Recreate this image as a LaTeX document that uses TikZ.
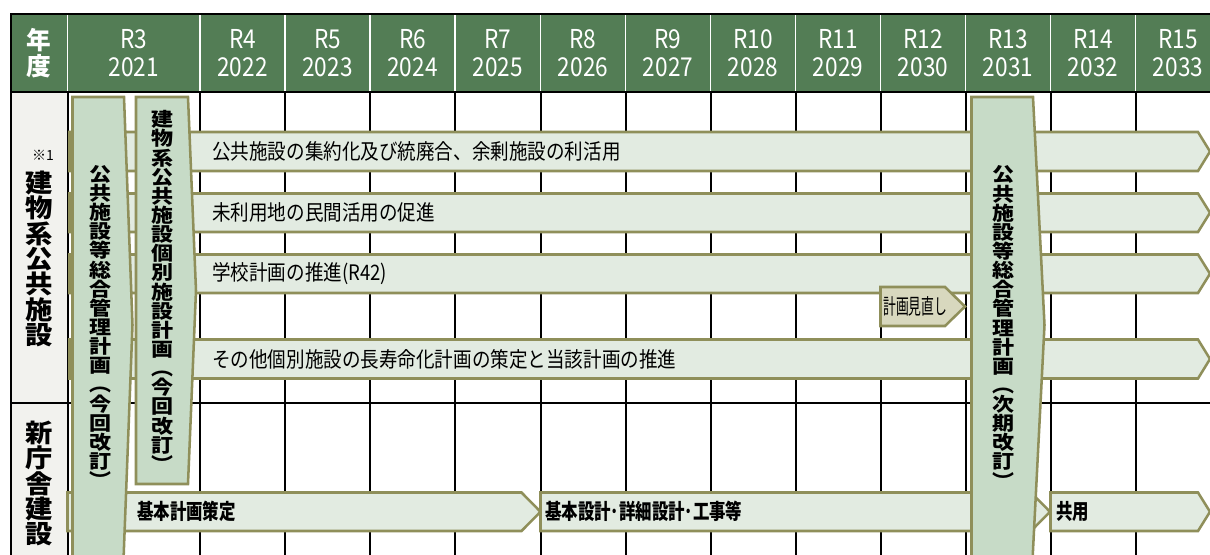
\documentclass[tikz,border=0pt]{standalone}
\usepackage{fontspec}
\setmainfont{Noto Sans CJK JP}
\newfontfamily\jpfont[FakeStretch=0.87]{Noto Sans CJK JP}
\newfontfamily\jpnarrow[FakeStretch=0.77]{Noto Sans CJK JP}
\newfontfamily\jptall[FakeStretch=0.6]{Noto Sans CJK JP}
\newfontfamily\jpvert{Noto Sans CJK JP}
\definecolor{hdrgreen}{HTML}{537D55}
\definecolor{labelgray}{HTML}{F2F2EE}
\definecolor{barfill}{HTML}{E2EBE1}
\definecolor{boxfill}{HTML}{C7DBC7}
\definecolor{reviewfill}{HTML}{D8D8BE}
\definecolor{planedge}{HTML}{8F8F5A}
\def\planbar[#1](#2:#3:#4:#5:#6){\draw[#1] (#2,#4) -- (#3,#4) -- ({#3+#6},{(#4+#5)/2}) -- (#3,#5) -- (#2,#5) -- cycle;}
\tikzset{
  gridline/.style={line width=1.5pt, black},
  hdrsep/.style={line width=1.4pt, white},
  planbar/.style={fill=barfill, draw=planedge, line width=1.9pt},
  reviewbar/.style={fill=reviewfill, draw=planedge, line width=1.9pt},
  planbox/.style={fill=boxfill, draw=planedge, line width=1.9pt},
  hdrtext/.style={text=white, inner sep=0pt, align=center, font={\jpfont\fontsize{19.5}{21}\selectfont}},
  hdrbold/.style={text=white, inner sep=0pt, align=center, font={\jpvert\bfseries\fontsize{18.5}{19}\selectfont}},
  sidetext/.style={inner sep=0pt, align=center, transform shape, yscale=0.93,
    font={\jpvert\bfseries\fontsize{20.5}{20.5}\selectfont\lineskiplimit=-\maxdimen}},
  notetext/.style={inner sep=0pt, font={\jpvert\fontsize{10.5}{12}\selectfont}},
  vtext/.style={inner sep=0pt, align=center, transform shape, yscale=0.87,
    font={\jpvert\bfseries\fontsize{16.5}{16.5}\selectfont\lineskiplimit=-\maxdimen}},
  bartext/.style={inner sep=0pt, anchor=west, font={\jpfont\fontsize{16}{18}\selectfont}},
  boldbar/.style={inner sep=0pt, anchor=west, font={\jpnarrow\bfseries\fontsize{16}{18}\selectfont}},
  reviewtext/.style={inner sep=0pt, anchor=west, font={\jptall\fontsize{16}{18}\selectfont}}
}
\begin{document}
\begin{tikzpicture}[x=0.75pt,y=-0.75pt]
	\useasboundingbox (0,0) rectangle (1210,554);
	\clip (0,0) rectangle (1210,554);
	%%%%% START %%%%%
	
	\fill[hdrgreen] (11,14) rectangle (1212,92);
	\fill[labelgray] (11,92) rectangle (67.5,556);
	
	% grid of the body
	\draw[gridline] (67.5,92) -- (67.5,556) (200,92) -- (200,556) (285,92) -- (285,556)
		(370,92) -- (370,556) (455,92) -- (455,556) (540.5,92) -- (540.5,556)
		(625.5,92) -- (625.5,556) (710.5,92) -- (710.5,556) (795.5,92) -- (795.5,556)
		(880.5,92) -- (880.5,556) (965.5,92) -- (965.5,556) (1050.5,92) -- (1050.5,556)
		(1135.5,92) -- (1135.5,556);
	\draw[gridline] (11,403) -- (1212,403);
	\draw[gridline] (11,556) -- (11,14) -- (1212,14);
	\draw[gridline] (11,92) -- (1212,92);
	
	% header separators
	\draw[hdrsep] (67.5,15) -- (67.5,91) (200,15) -- (200,91) (285,15) -- (285,91)
		(370,15) -- (370,91) (455,15) -- (455,91) (540.5,15) -- (540.5,91)
		(625.5,15) -- (625.5,91) (710.5,15) -- (710.5,91) (795.5,15) -- (795.5,91)
		(880.5,15) -- (880.5,91) (965.5,15) -- (965.5,91) (1050.5,15) -- (1050.5,91)
		(1135.5,15) -- (1135.5,91);
	
	\node[hdrbold] (nendo) at (39.25,53) {年\\度};
	\node[hdrtext] (r3) at (133.75,53) {R3\\2021};
	\node[hdrtext] (r4) at (242.5,53) {R4\\2022};
	\node[hdrtext] (r5) at (327.5,53) {R5\\2023};
	\node[hdrtext] (r6) at (412.5,53) {R6\\2024};
	\node[hdrtext] (r7) at (497.8,53) {R7\\2025};
	\node[hdrtext] (r8) at (583,53) {R8\\2026};
	\node[hdrtext] (r9) at (668,53) {R9\\2027};
	\node[hdrtext] (r10) at (753,53) {R10\\2028};
	\node[hdrtext] (r11) at (838,53) {R11\\2029};
	\node[hdrtext] (r12) at (923,53) {R12\\2030};
	\node[hdrtext] (r13) at (1008,53) {R13\\2031};
	\node[hdrtext] (r14) at (1093,53) {R14\\2032};
	\node[hdrtext] (r15) at (1178,53) {R15\\2033};
	
	% bars
	\planbar[planbar](69.5:1198:132:171:12)
	\planbar[planbar](69.5:1198:193.5:232:12)
	\planbar[planbar](69.5:1198:254.5:293:12)
	\planbar[planbar](69.5:1198:339.5:378.5:12)
	\planbar[planbar](67.5:521.5:492.5:531:19)
	\planbar[planbar](540.5:1031:492.5:531:19)
	\planbar[planbar](1050.5:1198:492.5:531:12)
	\planbar[reviewbar](880.5:945:287:326:20)
	
	% vertical plans
	\draw[planbox] (72.5,97) -- (124,97) -- (132.5,325) -- (123.5,560) -- (72.5,560) -- cycle;
	\draw[planbox] (136,97) -- (188,97) -- (196,290.5) -- (188,484) -- (136,484) -- cycle;
	\draw[planbox] (971.5,97) -- (1033,97) -- (1044.5,325) -- (1032.5,560) -- (971.5,560) -- cycle;
	
	\node[notetext] (note1) at (43,155) {※1};
	\node[sidetext] (bldg) at (39.5,259) {建\\物\\系\\公\\共\\施\\設};
	\node[sidetext] (newhall) at (39.5,483.5) {新\\庁\\舎\\建\\設};
	
	\node[vtext] (plannow) at (100,326.5) {公\\共\\施\\設\\等\\総\\合\\管\\理\\計\\画\\︵\\今\\回\\改\\訂\\︶};
	\node[vtext] (indivplan) at (162.5,291) {建\\物\\系\\公\\共\\施\\設\\個\\別\\施\\設\\計\\画\\︵\\今\\回\\改\\訂\\︶};
	\node[vtext] (plannext) at (1003.5,327) {公\\共\\施\\設\\等\\総\\合\\管\\理\\計\\画\\︵\\次\\期\\改\\訂\\︶};
	
	\node[bartext] (shuyaku) at (212,151.5) {公共施設の集約化及び統廃合、余剰施設の利活用};
	\node[bartext] (minkan) at (212,212.7) {未利用地の民間活用の促進};
	\node[bartext] (gakko) at (212,273.7) {学校計画の推進(R42)};
	\node[bartext] (choju) at (212,359) {その他個別施設の長寿命化計画の策定と当該計画の推進};
	\node[reviewtext] (minaoshi) at (883,306.5) {計画見直し};
	
	\node[boldbar] (kihon) at (137,511.7) {基本計画策定};
	\node[boldbar] (sekkei) at (545,511.7) {基本設計･詳細設計･工事等};
	\node[boldbar] (kyoyo) at (1056,511.7) {共用};
	
	%%%%% END %%%%%
\end{tikzpicture}
\end{document}
